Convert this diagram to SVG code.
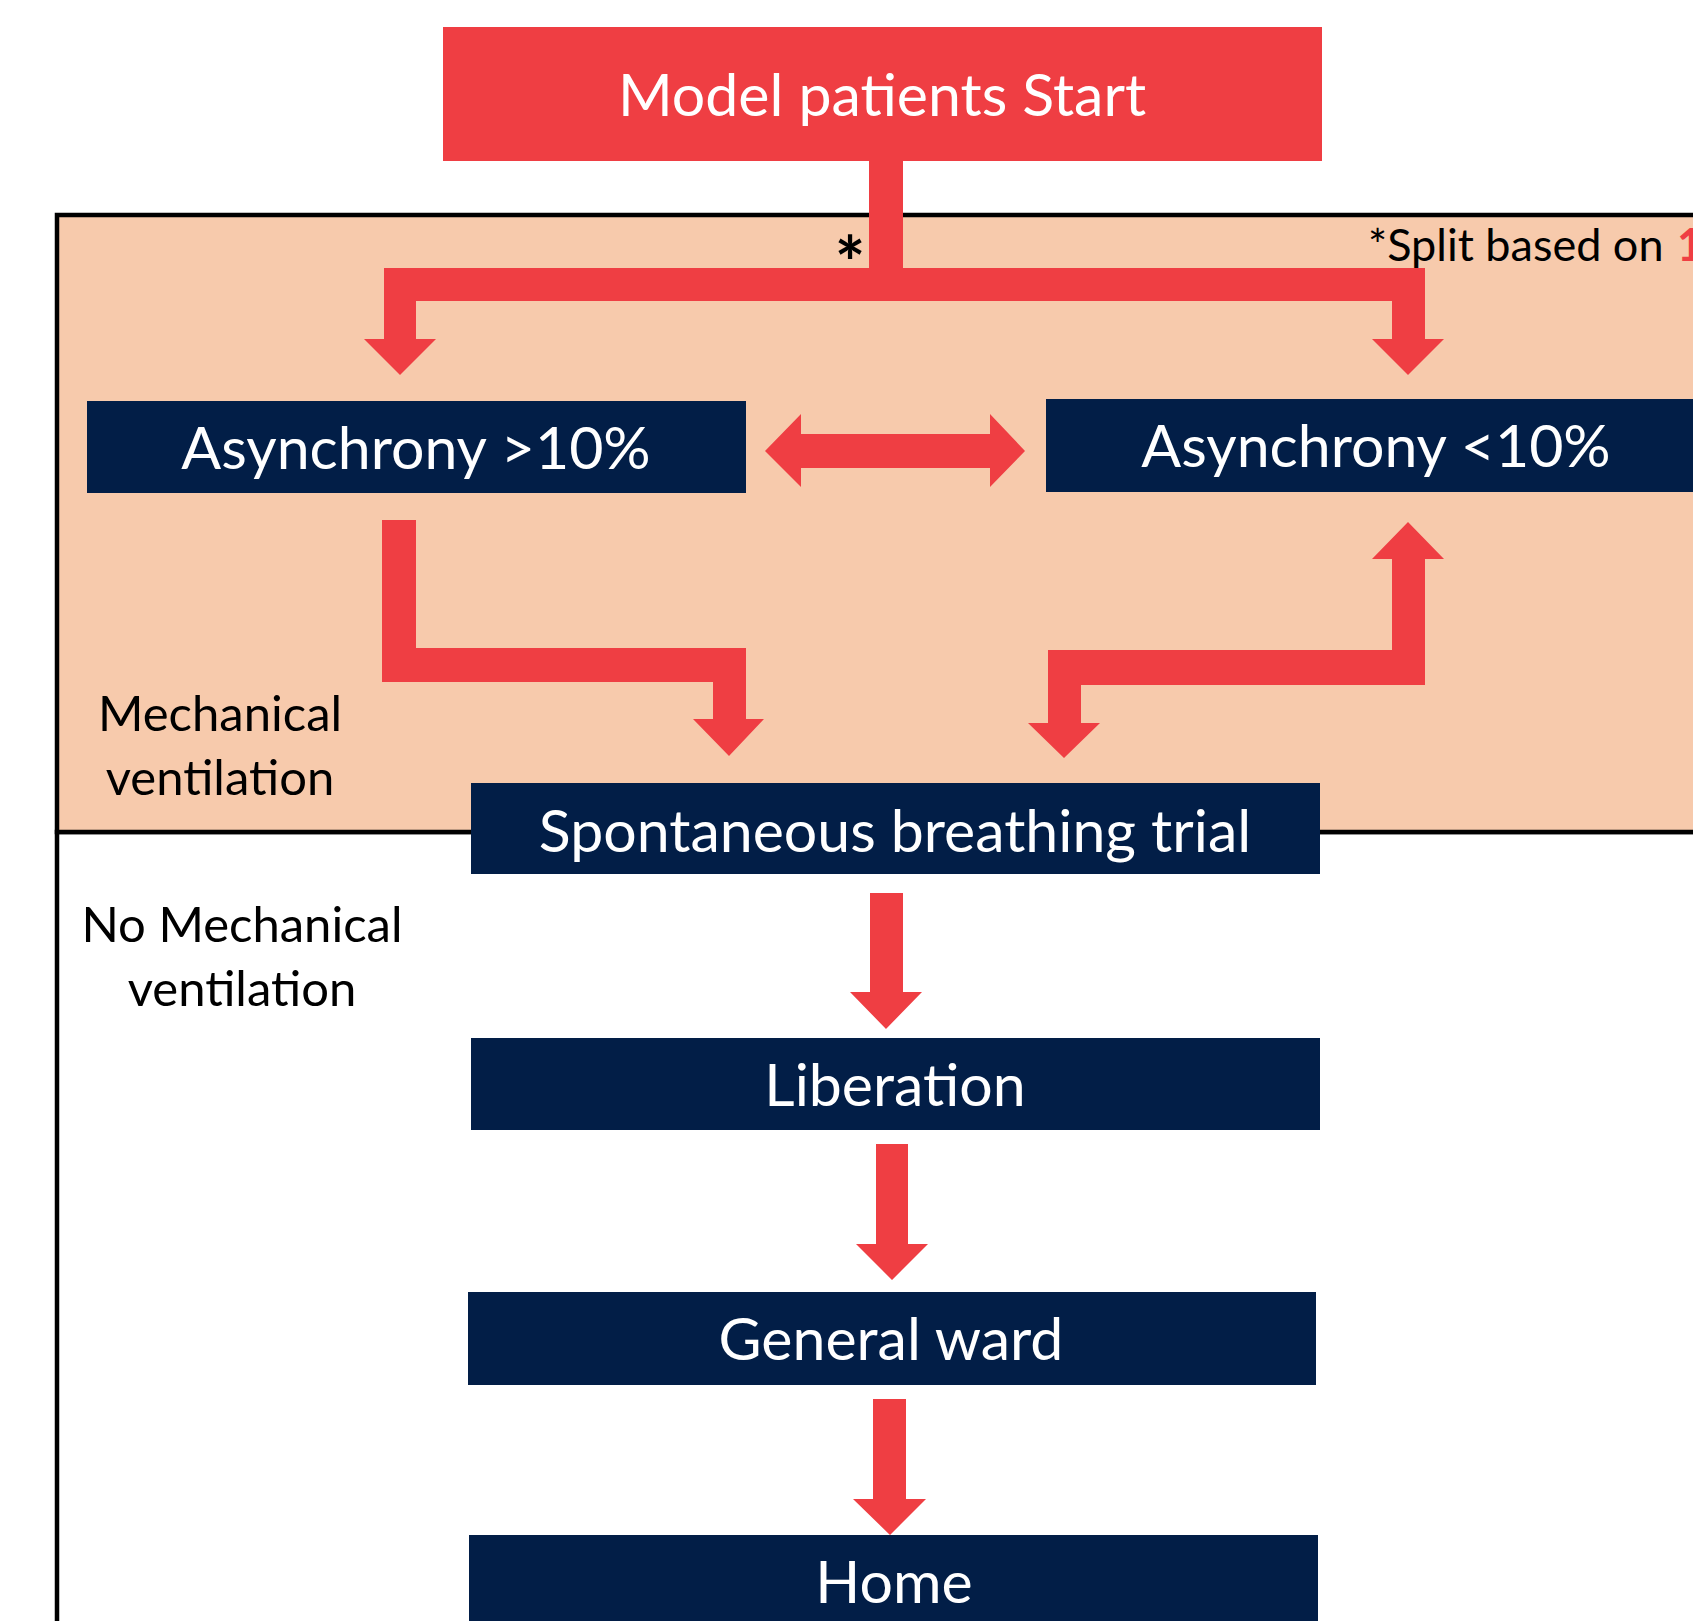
<svg xmlns="http://www.w3.org/2000/svg" width="1693" height="1621" viewBox="0 0 1693 1621">
<style>
.red{fill:#EF3E43}
.navy{fill:#021E47}
.nt{font-family:Lato,"Open Sans",sans-serif;font-size:59px;fill:#ffffff;text-anchor:middle}
.lb{font-family:Lato,"Open Sans",sans-serif;font-size:49px;fill:#000000;text-anchor:middle}
.sp{font-family:Lato,"Open Sans",sans-serif;font-size:45px;fill:#000000}
</style>
<rect x="0" y="0" width="1693" height="1621" fill="#ffffff"/>
<g id="zones">
<rect x="57" y="832" width="1700" height="850" fill="#ffffff" stroke="#000" stroke-width="4.5"/>
<rect x="57" y="215" width="1700" height="617" fill="#F7CAAC" stroke="#000" stroke-width="4.5"/>
<text class="lb" x="220" y="731">Mechanical</text>
<text class="lb" x="220" y="795">ventilation</text>
<text class="lb" x="242" y="942">No Mechanical</text>
<text class="lb" x="242" y="1006">ventilation</text>
<text class="sp" x="1368" y="261">*Split based on <tspan x="1677" fill="#EF3E43" font-weight="bold">1</tspan></text>
</g>
<g id="connectors" class="red">
<path d="M869 160 L903 160 L903 268 L1425 268 L1425 339 L1444 339 L1408 375 L1372 339 L1392 339 L1392 301 L416 301 L416 339 L436 339 L400 375 L364 339 L384 339 L384 268 L869 268 Z"/>
<path d="M765 451 L801 414 L801 434 L990 434 L990 414 L1025 451 L990 487 L990 468 L801 468 L801 487 Z"/>
<path d="M382 520 L416 520 L416 648 L746 648 L746 719 L764 719 L729 756 L693 719 L713 719 L713 682 L382 682 Z"/>
<path d="M1064 758 L1028 723 L1048 723 L1048 650 L1392 650 L1392 559 L1372 559 L1408 522 L1444 559 L1425 559 L1425 685 L1081 685 L1081 723 L1100 723 Z"/>
<path d="M870 893 L903 893 L903 992 L922 992 L886 1029 L850 992 L870 992 Z"/>
<path d="M876 1144 L908 1144 L908 1244 L928 1244 L892 1280 L856 1244 L876 1244 Z"/>
<path d="M873 1399 L906 1399 L906 1499 L926 1499 L890 1535 L853 1499 L873 1499 Z"/>
<text x="850" y="290" font-family="Lato,'Open Sans',sans-serif" font-size="72" font-weight="bold" fill="#000" text-anchor="middle">*</text>
</g>
<g id="node-start">
<rect x="443" y="27" width="879" height="134" class="red"/>
<text class="nt" x="882" y="116" font-size="60">Model patients Start</text>
</g>
<g id="node-async-high">
<rect x="87" y="401" width="659" height="92" class="navy"/>
<text class="nt" x="416" y="469">Asynchrony &gt;10%</text>
</g>
<g id="node-async-low">
<rect x="1046" y="399" width="660" height="93" class="navy"/>
<text class="nt" x="1376" y="467">Asynchrony &lt;10%</text>
</g>
<g id="node-sbt">
<rect x="471" y="783" width="849" height="91" class="navy"/>
<text class="nt" x="895" y="852" font-size="60">Spontaneous breathing trial</text>
</g>
<g id="node-liberation">
<rect x="471" y="1038" width="849" height="92" class="navy"/>
<text class="nt" x="895" y="1106">Liberation</text>
</g>
<g id="node-ward">
<rect x="468" y="1292" width="848" height="93" class="navy"/>
<text class="nt" x="891" y="1360">General ward</text>
</g>
<g id="node-home">
<rect x="469" y="1535" width="849" height="100" class="navy"/>
<text class="nt" x="894" y="1603">Home</text>
</g>
</svg>
